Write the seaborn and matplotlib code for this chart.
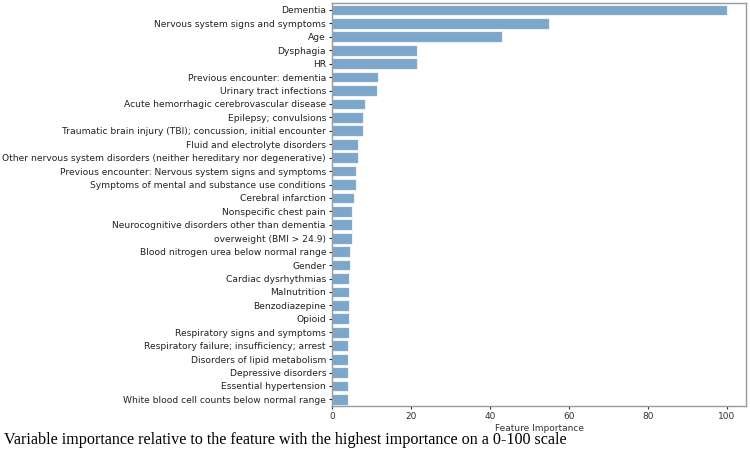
import seaborn as sns
import matplotlib.pyplot as plt
import pandas as pd

features = [
    "Dementia",
    "Nervous system signs and symptoms",
    "Age",
    "Dysphagia",
    "HR",
    "Previous encounter: dementia",
    "Urinary tract infections",
    "Acute hemorrhagic cerebrovascular disease",
    "Epilepsy; convulsions",
    "Traumatic brain injury (TBI); concussion, initial encounter",
    "Fluid and electrolyte disorders",
    "Other nervous system disorders (neither hereditary nor degenerative)",
    "Previous encounter: Nervous system signs and symptoms",
    "Symptoms of mental and substance use conditions",
    "Cerebral infarction",
    "Nonspecific chest pain",
    "Neurocognitive disorders other than dementia",
    "overweight (BMI > 24.9)",
    "Blood nitrogen urea below normal range",
    "Gender",
    "Cardiac dysrhythmias",
    "Malnutrition",
    "Benzodiazepine",
    "Opioid",
    "Respiratory signs and symptoms",
    "Respiratory failure; insufficiency; arrest",
    "Disorders of lipid metabolism",
    "Depressive disorders",
    "Essential hypertension",
    "White blood cell counts below normal range",
]
importance = [100, 55, 43, 21.5, 21.4, 11.6, 11.4, 8.2, 7.9, 7.9,
              6.6, 6.6, 6.0, 5.9, 5.6, 4.9, 4.9, 4.9, 4.4, 4.4,
              4.2, 4.3, 4.2, 4.2, 4.2, 4.0, 4.0, 4.0, 4.0, 4.0]

df = pd.DataFrame({"feature": features, "importance": importance})

fig = plt.figure(figsize=(7.5, 4.61), dpi=100)
ax = fig.add_axes([0.443, 0.119, 0.552, 0.874])

sns.barplot(data=df, x="importance", y="feature", color="steelblue",
            saturation=1, alpha=0.7, ax=ax, edgecolor="white", linewidth=0.8)

ax.set_xlim(0, 105)
ax.set_xticks([0, 20, 40, 60, 80, 100])
ax.set_ylabel("")
ax.set_xlabel("Feature Importance", fontsize=6.5, color="#333333", labelpad=2)
ax.tick_params(axis="y", labelsize=6.6, length=2.5, pad=2, colors="#222222")
ax.tick_params(axis="x", labelsize=6.5, length=2.5, pad=2, colors="#333333")
for s in ax.spines.values():
    s.set_color("#999999")
    s.set_linewidth(1)

fig.text(0.006, 0.045, "Variable importance relative to the feature with the highest importance on a 0-100 scale",
         family="Liberation Serif", fontsize=11.6, ha="left", va="center")

fig.savefig("out.png", dpi=100)
